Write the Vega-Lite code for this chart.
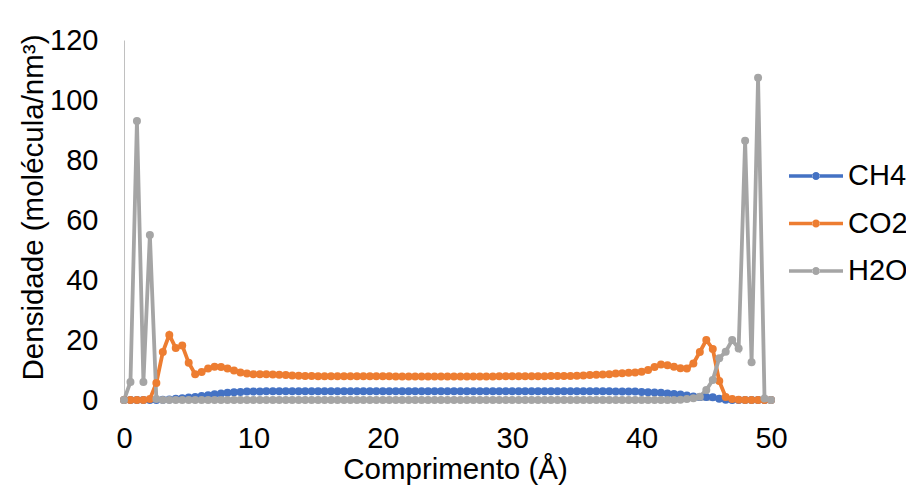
{
  "$schema": "https://vega.github.io/schema/vega-lite/v6.json",
  "width": 647,
  "height": 360,
  "autosize": {"type": "none"},
  "padding": {"left": 124, "top": 40, "right": 135, "bottom": 85},
  "background": "white",
  "config": {"view": {"stroke": null}, "font": "Liberation Sans"},
  "data": {"values": [
    {"x": 0, "CH4": 0, "CO2": 0, "H2O": 0},
    {"x": 0.5, "CH4": 0, "CO2": 0, "H2O": 6},
    {"x": 1, "CH4": 0, "CO2": 0, "H2O": 93},
    {"x": 1.5, "CH4": 0, "CO2": 0, "H2O": 6},
    {"x": 2, "CH4": 0, "CO2": 0.3, "H2O": 55},
    {"x": 2.5, "CH4": 0, "CO2": 5.7, "H2O": 0.3},
    {"x": 3, "CH4": 0.1, "CO2": 16, "H2O": 0},
    {"x": 3.5, "CH4": 0.2, "CO2": 21.7, "H2O": 0},
    {"x": 4, "CH4": 0.4, "CO2": 17.3, "H2O": 0},
    {"x": 4.5, "CH4": 0.6, "CO2": 18.2, "H2O": 0},
    {"x": 5, "CH4": 0.8, "CO2": 12.4, "H2O": 0},
    {"x": 5.5, "CH4": 1.0, "CO2": 8.6, "H2O": 0},
    {"x": 6, "CH4": 1.3, "CO2": 9.3, "H2O": 0},
    {"x": 6.5, "CH4": 1.6, "CO2": 10.5, "H2O": 0},
    {"x": 7, "CH4": 1.9, "CO2": 11.1, "H2O": 0},
    {"x": 7.5, "CH4": 2.2, "CO2": 11.0, "H2O": 0},
    {"x": 8, "CH4": 2.4, "CO2": 10.5, "H2O": 0},
    {"x": 8.5, "CH4": 2.6, "CO2": 9.8, "H2O": 0},
    {"x": 9, "CH4": 2.7, "CO2": 9.2, "H2O": 0},
    {"x": 9.5, "CH4": 2.8, "CO2": 8.8, "H2O": 0},
    {"x": 10, "CH4": 2.8, "CO2": 8.6, "H2O": 0},
    {"x": 10.5, "CH4": 2.8, "CO2": 8.6, "H2O": 0},
    {"x": 11, "CH4": 2.9, "CO2": 8.6, "H2O": 0},
    {"x": 11.5, "CH4": 2.9, "CO2": 8.5, "H2O": 0},
    {"x": 12, "CH4": 2.9, "CO2": 8.4, "H2O": 0},
    {"x": 12.5, "CH4": 2.9, "CO2": 8.3, "H2O": 0},
    {"x": 13, "CH4": 2.9, "CO2": 8.2, "H2O": 0},
    {"x": 13.5, "CH4": 2.9, "CO2": 8.1, "H2O": 0},
    {"x": 14, "CH4": 2.9, "CO2": 8.0, "H2O": 0},
    {"x": 14.5, "CH4": 2.9, "CO2": 8.0, "H2O": 0},
    {"x": 15, "CH4": 2.9, "CO2": 7.9, "H2O": 0},
    {"x": 15.5, "CH4": 2.9, "CO2": 7.9, "H2O": 0},
    {"x": 16, "CH4": 2.9, "CO2": 7.9, "H2O": 0},
    {"x": 16.5, "CH4": 2.9, "CO2": 7.9, "H2O": 0},
    {"x": 17, "CH4": 2.9, "CO2": 7.9, "H2O": 0},
    {"x": 17.5, "CH4": 2.9, "CO2": 7.9, "H2O": 0},
    {"x": 18, "CH4": 2.9, "CO2": 7.9, "H2O": 0},
    {"x": 18.5, "CH4": 2.9, "CO2": 7.9, "H2O": 0},
    {"x": 19, "CH4": 2.9, "CO2": 7.9, "H2O": 0},
    {"x": 19.5, "CH4": 2.9, "CO2": 7.9, "H2O": 0},
    {"x": 20, "CH4": 2.9, "CO2": 7.9, "H2O": 0},
    {"x": 20.5, "CH4": 2.9, "CO2": 7.9, "H2O": 0},
    {"x": 21, "CH4": 2.9, "CO2": 7.8, "H2O": 0},
    {"x": 21.5, "CH4": 2.9, "CO2": 7.8, "H2O": 0},
    {"x": 22, "CH4": 2.9, "CO2": 7.8, "H2O": 0},
    {"x": 22.5, "CH4": 2.9, "CO2": 7.8, "H2O": 0},
    {"x": 23, "CH4": 2.9, "CO2": 7.8, "H2O": 0},
    {"x": 23.5, "CH4": 2.9, "CO2": 7.8, "H2O": 0},
    {"x": 24, "CH4": 2.9, "CO2": 7.8, "H2O": 0},
    {"x": 24.5, "CH4": 2.9, "CO2": 7.8, "H2O": 0},
    {"x": 25, "CH4": 2.9, "CO2": 7.8, "H2O": 0},
    {"x": 25.5, "CH4": 2.9, "CO2": 7.8, "H2O": 0},
    {"x": 26, "CH4": 2.9, "CO2": 7.8, "H2O": 0},
    {"x": 26.5, "CH4": 2.9, "CO2": 7.8, "H2O": 0},
    {"x": 27, "CH4": 2.9, "CO2": 7.8, "H2O": 0},
    {"x": 27.5, "CH4": 2.9, "CO2": 7.8, "H2O": 0},
    {"x": 28, "CH4": 2.9, "CO2": 7.8, "H2O": 0},
    {"x": 28.5, "CH4": 2.9, "CO2": 7.8, "H2O": 0},
    {"x": 29, "CH4": 2.9, "CO2": 7.9, "H2O": 0},
    {"x": 29.5, "CH4": 2.9, "CO2": 7.9, "H2O": 0},
    {"x": 30, "CH4": 2.9, "CO2": 7.9, "H2O": 0},
    {"x": 30.5, "CH4": 2.9, "CO2": 7.9, "H2O": 0},
    {"x": 31, "CH4": 2.9, "CO2": 7.9, "H2O": 0},
    {"x": 31.5, "CH4": 2.9, "CO2": 7.9, "H2O": 0},
    {"x": 32, "CH4": 2.9, "CO2": 7.9, "H2O": 0},
    {"x": 32.5, "CH4": 2.9, "CO2": 7.9, "H2O": 0},
    {"x": 33, "CH4": 2.9, "CO2": 8.0, "H2O": 0},
    {"x": 33.5, "CH4": 2.9, "CO2": 8.0, "H2O": 0},
    {"x": 34, "CH4": 2.9, "CO2": 8.0, "H2O": 0},
    {"x": 34.5, "CH4": 2.9, "CO2": 8.0, "H2O": 0},
    {"x": 35, "CH4": 2.9, "CO2": 8.1, "H2O": 0},
    {"x": 35.5, "CH4": 2.9, "CO2": 8.2, "H2O": 0},
    {"x": 36, "CH4": 2.9, "CO2": 8.3, "H2O": 0},
    {"x": 36.5, "CH4": 2.9, "CO2": 8.4, "H2O": 0},
    {"x": 37, "CH4": 2.9, "CO2": 8.5, "H2O": 0},
    {"x": 37.5, "CH4": 2.9, "CO2": 8.6, "H2O": 0},
    {"x": 38, "CH4": 2.8, "CO2": 8.8, "H2O": 0},
    {"x": 38.5, "CH4": 2.8, "CO2": 8.9, "H2O": 0},
    {"x": 39, "CH4": 2.8, "CO2": 9.1, "H2O": 0},
    {"x": 39.5, "CH4": 2.8, "CO2": 9.2, "H2O": 0},
    {"x": 40, "CH4": 2.7, "CO2": 9.4, "H2O": 0},
    {"x": 40.5, "CH4": 2.6, "CO2": 10.0, "H2O": 0},
    {"x": 41, "CH4": 2.5, "CO2": 11.0, "H2O": 0},
    {"x": 41.5, "CH4": 2.4, "CO2": 11.8, "H2O": 0},
    {"x": 42, "CH4": 2.2, "CO2": 11.6, "H2O": 0},
    {"x": 42.5, "CH4": 2.0, "CO2": 11.1, "H2O": 0},
    {"x": 43, "CH4": 1.8, "CO2": 10.6, "H2O": 0.1},
    {"x": 43.5, "CH4": 1.5, "CO2": 10.5, "H2O": 0.3},
    {"x": 44, "CH4": 1.2, "CO2": 12.2, "H2O": 0.6},
    {"x": 44.5, "CH4": 1.0, "CO2": 16.0, "H2O": 1.1},
    {"x": 45, "CH4": 1.0, "CO2": 20.0, "H2O": 3.3},
    {"x": 45.5, "CH4": 0.9, "CO2": 17.0, "H2O": 6.7},
    {"x": 46, "CH4": 0.4, "CO2": 6.3, "H2O": 13.9},
    {"x": 46.5, "CH4": 0.1, "CO2": 1.0, "H2O": 16.1},
    {"x": 47, "CH4": 0, "CO2": 0.3, "H2O": 20},
    {"x": 47.5, "CH4": 0, "CO2": 0.1, "H2O": 17.2},
    {"x": 48, "CH4": 0, "CO2": 0, "H2O": 86.4},
    {"x": 48.5, "CH4": 0, "CO2": 0, "H2O": 12.6},
    {"x": 49, "CH4": 0, "CO2": 0, "H2O": 107.4},
    {"x": 49.5, "CH4": 0, "CO2": 0, "H2O": 0.5},
    {"x": 50, "CH4": 0, "CO2": 0, "H2O": 0}
  ]},
  "transform": [{"fold": ["CH4", "CO2", "H2O"], "as": ["serie", "valor"]}],
  "encoding": {
    "x": {
      "field": "x", "type": "quantitative",
      "scale": {"domain": [0, 50]},
      "axis": {
        "values": [0, 10, 20, 30, 40, 50],
        "title": "Comprimento (Å)",
        "grid": false, "ticks": false,
        "domainColor": "#C0C0C0", "domainWidth": 1,
        "labelFontSize": 29, "labelColor": "#000000", "labelPadding": 24,
        "labelFlush": false,
        "titleFontSize": 29.5, "titleFontWeight": "normal", "titleColor": "#000000",
        "titleBaseline": "alphabetic", "titleY": 78, "titleX": 331, "titleAlign": "center"
      }
    },
    "y": {
      "field": "valor", "type": "quantitative",
      "scale": {"domain": [0, 120]},
      "axis": {
        "values": [0, 20, 40, 60, 80, 100, 120],
        "title": "Densidade (molécula/nm³)",
        "grid": false, "ticks": false,
        "domainColor": "#C0C0C0", "domainWidth": 1,
        "labelFontSize": 29, "labelColor": "#000000", "labelPadding": 26,
        "labelFlush": false,
        "titleFontSize": 29.5, "titleFontWeight": "normal", "titleColor": "#000000",
        "titleAngle": -90, "titleBaseline": "alphabetic", "titleAlign": "center",
        "titleX": -82, "titleY": 167
      }
    },
    "color": {
      "field": "serie", "type": "nominal",
      "scale": {"domain": ["CH4", "CO2", "H2O"], "range": ["#4472C4", "#ED7D31", "#A5A5A5"]},
      "legend": {
        "title": null,
        "orient": "none",
        "legendX": 677,
        "legendY": 121,
        "padding": 0,
        "symbolType": "M-1.8,-0.11L-0.24,-0.11L-0.24,0.11L-1.8,0.11ZM0.24,-0.11L1.8,-0.11L1.8,0.11L0.24,0.11ZM-0.27,0A0.27,0.27,0,1,0,0.27,0A0.27,0.27,0,1,0,-0.27,0Z",
        "symbolSize": 900,
        "symbolOpacity": 1,
        "symbolStrokeWidth": 0,
        "labelFontSize": 29,
        "labelColor": "#000000",
        "labelOffset": 17,
        "rowPadding": 17.5,
        "encode": {
          "symbols": {
            "update": {
              "fill": {"scale": "color", "field": "value"},
              "strokeWidth": {"value": 0}
            }
          }
        }
      }
    }
  },
  "layer": [
    {
      "mark": {"type": "line", "strokeWidth": 3.8}
    },
    {
      "mark": {"type": "point", "filled": true, "shape": "circle", "size": 64, "opacity": 1},
      "encoding": {
        "order": {"field": "serie", "type": "nominal"}
      }
    }
  ]
}
